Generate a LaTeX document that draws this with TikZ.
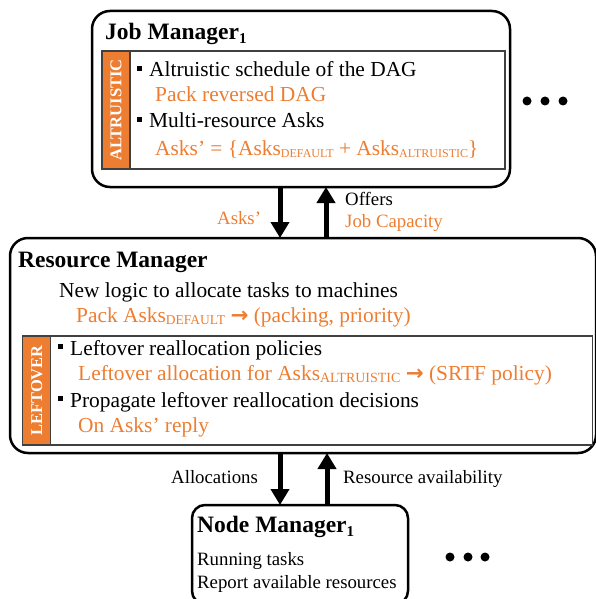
\documentclass[tikz,border=0pt]{standalone}
\usepackage{fontspec}
\setmainfont{Liberation Serif}
\newfontfamily\djv{DejaVu Sans}
\usetikzlibrary{arrows.meta}
\definecolor{orng}{HTML}{ED7D31}
\definecolor{edge}{HTML}{404040}
\newcommand\sbx[2][13]{\raisebox{-2.5pt}{\fontsize{#1}{#1}\selectfont #2}}
\newcommand\tsub[1]{\raisebox{-4pt}{\fontsize{15}{15}\selectfont\bfseries #1}}
\newcommand\blt{\raisebox{6pt}{\rule{5pt}{5pt}}\hspace{7pt}}
\newcommand\rarr{{\djv\bfseries →}}
\begin{document}
\begin{tikzpicture}[x=1pt,y=1pt,
  mgr/.style={draw=black, line width=2.5pt, rounded corners=18pt, anchor=north west, inner sep=0, outer sep=0},
  inbox/.style={draw=edge, line width=1.2pt, anchor=north west, inner sep=0, outer sep=0},
  strip/.style={draw=edge, line width=1.2pt, fill=orng, anchor=north west, inner sep=0, outer sep=0},
  striptext/.style={text=white, font=\fontsize{16.5}{18}\selectfont\bfseries, rotate=90, inner sep=0},
  txt/.style={anchor=base west, inner sep=0, font=\fontsize{21.4}{25}\selectfont},
  otxt/.style={txt, text=orng},
  ttl/.style={anchor=base west, inner sep=0, font=\fontsize{23.5}{28}\selectfont\bfseries},
  sml/.style={anchor=base west, inner sep=0, font=\fontsize{18.8}{22}\selectfont},
  osml/.style={sml, text=orng},
  bigarrow/.style={line width=5pt, -{Triangle[width=18pt,length=16pt]}},
  dot/.style={circle, fill=black, inner sep=0, minimum size=9pt}
]
\useasboundingbox (0,0) rectangle (595,-599);

% Job Manager
\node[mgr, minimum width=418pt, minimum height=176pt] (jm) at (92,-11) {};
\node[inbox, minimum width=403pt, minimum height=118pt] (jmin) at (102,-51) {};
\node[strip, minimum width=28pt, minimum height=118pt] (jstrip) at (102,-51) {};
\node[striptext] (altl) at (jstrip.center) {ALTRUISTIC};
\node[ttl] (jmt) at (105,-40) {Job Manager\tsub{1}};
\node[txt] (j1) at (137,-77) {\blt Altruistic schedule of the DAG};
\node[otxt] (j2) at (155,-102) {Pack reversed DAG};
\node[txt] (j3) at (137,-128) {\blt Multi-resource Asks};
\node[otxt] (j4) at (155,-155) {Asks’ = \{Asks\sbx[12]{DEFAULT} + Asks\sbx[12]{ALTRUISTIC}\}};
\node[dot] (jd1) at (527,-101) {};
\node[dot] (jd2) at (545,-101) {};
\node[dot] (jd3) at (563,-101) {};

% Resource Manager
\node[mgr, minimum width=586pt, minimum height=215pt] (rm) at (10,-238) {};
\node[inbox, minimum width=570pt, minimum height=109pt] (rmin) at (22.7,-336) {};
\node[strip, minimum width=28pt, minimum height=109pt] (rstrip) at (22.7,-336) {};
\node[striptext] (lefl) at (rstrip.center) {LEFTOVER};
\node[ttl] (rmt) at (18,-267) {Resource Manager};
\node[txt] (r1) at (59,-297) {New logic to allocate tasks to machines};
\node[otxt] (r2) at (76,-322) {Pack Asks\sbx[13.5]{DEFAULT} \rarr{} (packing, priority)};
\node[otxt] (r4) at (78,-380) {Leftover allocation for Asks\sbx[14]{ALTRUISTIC} \rarr{} (SRTF policy)};
\node[txt] (r3) at (58,-355) {\blt Leftover reallocation policies};
\node[txt] (r5) at (58,-407) {\blt Propagate leftover reallocation decisions};
\node[otxt] (r6) at (78,-432) {On Asks’ reply};

% Node Manager
\node[mgr, rounded corners=13pt, minimum width=216pt, minimum height=99pt] (nm) at (192,-505) {};
\node[ttl] (nmt) at (197,-532) {Node Manager\tsub{1}};
\node[sml] (n1) at (197,-565) {Running tasks};
\node[sml] (n2) at (197,-588) {Report available resources};
\node[dot] (nd1) at (450,-557) {};
\node[dot] (nd2) at (468,-557) {};
\node[dot] (nd3) at (485,-557) {};

% arrows
\draw[bigarrow] ([xshift=-21pt]jm.south) -- ([xshift=-23pt]rm.north);
\draw[bigarrow] ([xshift=23pt]rm.north) -- ([xshift=25pt]jm.south);
\draw[bigarrow] ([xshift=-23pt]rm.south) -- ([xshift=-20pt]nm.north);
\draw[bigarrow] ([xshift=27pt]nm.north) -- ([xshift=24pt]rm.south);

% labels
\node[osml] (la) at (217,-224) {Asks’};
\node[sml] (lo) at (345,-205) {Offers};
\node[osml] (lj) at (345,-227) {Job Capacity};
\node[sml] (lal) at (171,-483) {Allocations};
\node[sml] (lra) at (343,-483) {Resource availability};
\end{tikzpicture}
\end{document}
